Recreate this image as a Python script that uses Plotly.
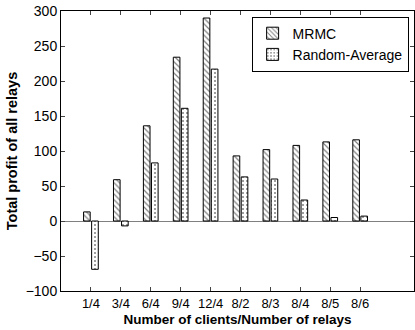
import plotly.graph_objects as go

categories = ["1/4", "3/4", "6/4", "9/4", "12/4", "8/2", "8/3", "8/4", "8/5", "8/6"]
mrmc = [13, 59, 136, 234, 290, 93, 102, 108, 113, 116]
random_avg = [-69, -7, 83, 161, 217, 63, 60, 30, 5, 7]

xpos = list(range(1, len(categories) + 1))

fig = go.Figure()
fig.add_trace(go.Bar(
    x=xpos, y=mrmc, name="MRMC",
    marker=dict(color="white", line=dict(color="black", width=1),
                pattern=dict(shape="\\", fgcolor="black", bgcolor="white", size=4, solidity=0.3)),
))
fig.add_trace(go.Bar(
    x=xpos, y=random_avg, name="Random-Average",
    marker=dict(color="white", line=dict(color="black", width=1),
                pattern=dict(shape=".", fgcolor="black", bgcolor="white", size=4, solidity=0.2)),
))

font = dict(family="Liberation Sans, Arial, sans-serif", size=13, color="black")
fig.update_layout(
    width=415, height=330,
    margin=dict(l=61, r=1, t=11, b=39),
    paper_bgcolor="white", plot_bgcolor="white",
    barmode="group", bargap=0.46, bargroupgap=0.18,
    font=font,
    showlegend=True,
    legend=dict(x=0.54, y=0.98, xanchor="left", yanchor="top",
                bordercolor="black", borderwidth=1, bgcolor="white",
                font=dict(family="Liberation Sans, Arial, sans-serif", size=14, color="black"),
                tracegroupgap=0, itemwidth=30),
    xaxis=dict(
        range=[0, 11.8], tickvals=xpos, ticktext=categories,
        ticks="inside", ticklen=4, mirror="allticks", showline=True, linecolor="black", linewidth=1,
        showgrid=False, zeroline=False,
        tickfont=dict(size=13),
        title=dict(text="<b>Number of clients/Number of relays</b>", font=dict(size=13.5), standoff=4),
    ),
    yaxis=dict(
        range=[-100, 300], tickvals=[-100, -50, 0, 50, 100, 150, 200, 250, 300],
        ticks="inside", ticklen=4, mirror="allticks", showline=True, linecolor="black", linewidth=1,
        showgrid=False, zeroline=True, zerolinecolor="gray", zerolinewidth=1,
        tickfont=dict(size=14),
        title=dict(text="<b>Total profit of all relays</b>", font=dict(size=14.5), standoff=4),
    ),
)

fig.write_html("out.html")
